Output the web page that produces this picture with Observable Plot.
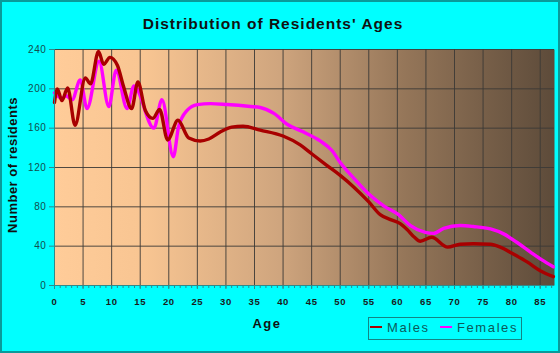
<!DOCTYPE html>
<html>
<head>
<meta charset="utf-8">
<script src="https://cdn.jsdelivr.net/npm/d3@7"></script>
<script src="https://cdn.jsdelivr.net/npm/@observablehq/plot@0.6"></script>
<style>
  html, body { margin: 0; padding: 0; background: #00FFFF; }
  svg { display: block; }
</style>
</head>
<body>
<div id="chart"></div>
<script>
const maleAges =   [0, 0.5, 1.3, 2.3, 3.6, 5.4, 6.3, 7.7, 8.6, 9.7, 11, 12.1, 13.5, 14.6, 15.9, 17.2, 18.4, 19.8, 21.6, 23.5, 25.5, 27, 29, 31, 33, 36, 40, 43, 45, 47.7, 50, 52.4, 55, 57, 58.8, 60.5, 61.7, 63, 64, 66, 68.8, 71, 73.3, 76.3, 78, 80.3, 82.7, 85, 87.3];
const maleCounts = [186, 200, 188, 201, 163, 211, 205, 238, 225, 232, 224, 202, 180, 207, 178, 170, 179, 148, 168, 150, 147, 149, 156, 161, 162, 158, 152, 143, 134, 122, 112, 100, 85, 72, 67, 63, 57, 49, 45, 49, 39, 42, 42.5, 42, 39, 32, 24, 15, 9];
const femaleAges =   [0, 0.5, 1.3, 2, 3.1, 4.5, 5.7, 7.8, 9.5, 10.8, 12.7, 13.9, 17.4, 18.8, 20.8, 21.7, 23.2, 25, 27.3, 30.2, 34.3, 36, 38.4, 40.7, 43.6, 46.5, 48.6, 50, 52.4, 55, 57.6, 60.2, 62.3, 64.9, 66.3, 68.1, 71, 73.3, 76.3, 78.6, 80.9, 83.3, 85.3, 87.3];
const femaleCounts = [196, 193, 190, 193, 189, 209, 180, 228, 182, 219, 180, 203, 160, 189, 131, 161, 178, 184, 185, 184, 182, 181, 175, 164, 156, 147, 137, 125, 109, 93, 81, 72, 61, 54, 53, 58, 61, 60, 57.5, 52.5, 44, 34, 26, 19];
const xTicks = [0, 5, 10, 15, 20, 25, 30, 35, 40, 45, 50, 55, 60, 65, 70, 75, 80, 85];
const yTicks = [0, 40, 80, 120, 160, 200, 240];
const seriesNames = ["Males", "Females"];
const seriesColors = ["#A80000", "#FF00FF"];

const males = maleAges.map((a, i) => ({age: a, n: maleCounts[i]}));
const females = femaleAges.map((a, i) => ({age: a, n: femaleCounts[i]}));
const minorTicks = d3.range(0, 88, 1);

const svg = Plot.plot({
  width: 560, height: 353,
  marginLeft: 54, marginRight: 6, marginTop: 49, marginBottom: 68,
  x: {domain: [0, 87.5], axis: null},
  y: {domain: [0, 240], axis: null},
  style: {background: "transparent", fontFamily: "'Liberation Sans', Arial, sans-serif", overflow: "visible"},
  marks: [
    Plot.frame({fill: "url(#plotGrad)", stroke: "none"}),
    Plot.gridX({ticks: xTicks, stroke: "#3c3a36", strokeOpacity: 0.9}),
    Plot.gridY({ticks: yTicks, stroke: "#3c3a36", strokeOpacity: 0.9}),
    Plot.line(females, {x: "age", y: "n", stroke: seriesColors[1], strokeWidth: 3.4, curve: "monotone-x"}),
    Plot.line(males, {x: "age", y: "n", stroke: seriesColors[0], strokeWidth: 3.4, curve: "monotone-x"}),
    Plot.ruleX([0], {stroke: "#2f8a8a", strokeWidth: 1}),
    Plot.ruleY([0], {stroke: "#2f8a8a", strokeWidth: 1}),
    Plot.axisY({ticks: yTicks, label: null, tickSize: 5, tickPadding: 3, stroke: "#2f8a8a", fill: "#124e4e", fontSize: 10}),
    Plot.axisX({ticks: minorTicks, label: null, tickSize: 3, tickFormat: () => "", stroke: "#2f8a8a"}),
    Plot.axisX({ticks: xTicks, label: null, tickSize: 4, tickPadding: 9, stroke: "#2f8a8a", fill: "#1a1a1a", fontSize: 9.5, fontWeight: "bold"})
  ]
});

const s = d3.select(svg);
const defs = s.insert("defs", ":first-child");
const g = defs.append("linearGradient").attr("id", "plotGrad").attr("x1", "0").attr("x2", "1").attr("y1", "0").attr("y2", "0");
[[0, "#FFCC99"], [0.18, "#F8C592"], [0.45, "#CFA57E"], [0.7, "#957659"], [1, "#5D4B3A"]].forEach(([o, c]) =>
  g.append("stop").attr("offset", o).attr("stop-color", c));

s.selectAll("text").style("letter-spacing", "0.6px");

const font = "'Liberation Sans', Arial, sans-serif";

// outer border
s.append("rect").attr("x", 1).attr("y", 1).attr("width", 558).attr("height", 351)
  .attr("fill", "none").attr("stroke", "#0a9a9a").attr("stroke-width", 2);

// title
s.append("text").attr("x", 273).attr("y", 29).attr("text-anchor", "middle")
  .style("font-family", font).style("font-weight", "bold")
  .style("font-size", "15.5px").style("letter-spacing", "1px").attr("fill", "#111")
  .text("Distribution of Residents' Ages");

// y label
s.append("text").attr("transform", "translate(17,165) rotate(-90)").attr("text-anchor", "middle")
  .style("font-family", font).style("font-weight", "bold")
  .style("font-size", "13px").style("letter-spacing", "0.5px").attr("fill", "#111")
  .text("Number of residents");

// x label
s.append("text").attr("x", 267).attr("y", 328).attr("text-anchor", "middle")
  .style("font-family", font).style("font-weight", "bold")
  .style("font-size", "13px").style("letter-spacing", "1.5px").attr("fill", "#111")
  .text("Age");

// legend
const lg = s.append("g");
lg.append("rect").attr("x", 368.5).attr("y", 317.5).attr("width", 153).attr("height", 22)
  .attr("fill", "none").attr("stroke", "#138585").attr("stroke-width", 1);
const legendX = [[370, 387], [440, 457]];
seriesNames.forEach((name, i) => {
  lg.append("line").attr("x1", legendX[i][0]).attr("x2", legendX[i][0] + 12).attr("y1", 327).attr("y2", 327)
    .attr("stroke", seriesColors[i]).attr("stroke-width", 2);
  lg.append("text").attr("x", legendX[i][1]).attr("y", 332).attr("text-anchor", "start")
    .style("font-family", font).style("font-size", "13px")
    .style("letter-spacing", "1.6px").attr("fill", "#0b5a5a").text(name);
});

document.getElementById("chart").appendChild(svg);
</script>
</body>
</html>
